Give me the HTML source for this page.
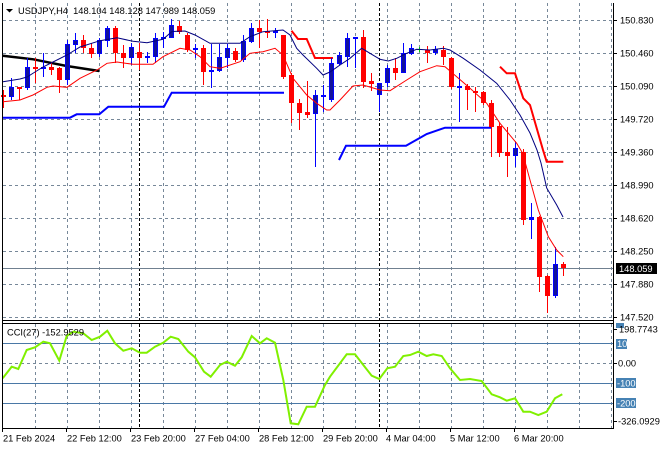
<!DOCTYPE html>
<html><head><meta charset="utf-8"><style>
html,body{margin:0;padding:0;background:#fff;}
svg{display:block;}
text{font-family:"Liberation Sans",sans-serif;font-size:9.3px;fill:#000;}
</style></head><body>
<svg width="660" height="450" viewBox="0 0 660 450" xmlns="http://www.w3.org/2000/svg">
<rect x="0" y="0" width="660" height="450" fill="#fff"/>
<!-- main grid -->
<g stroke="#778899" stroke-width="1" stroke-dasharray="3,3" fill="none">
<path d="M3 20.5H613M3 53.5H613M3 86.5H613M3 119.5H613M3 152.5H613M3 185.5H613M3 218.5H613M3 251.5H613M3 284.5H613M3 317.5H613"/>
<path d="M35.5 3V320M67.5 3V320M99.5 3V320M131.5 3V320M163.5 3V320M195.5 3V320M227.5 3V320M259.5 3V320M291.5 3V320M323.5 3V320M355.5 3V320M387.5 3V320M419.5 3V320M451.5 3V320M483.5 3V320M515.5 3V320M547.5 3V320M579.5 3V320M611.5 3V320"/>
<path d="M35.5 324V428M67.5 324V428M99.5 324V428M131.5 324V428M163.5 324V428M195.5 324V428M227.5 324V428M259.5 324V428M291.5 324V428M323.5 324V428M355.5 324V428M387.5 324V428M419.5 324V428M451.5 324V428M483.5 324V428M515.5 324V428M547.5 324V428M579.5 324V428M611.5 324V428"/>
<path d="M3 363.5H613"/>
</g>
<g stroke="#000" stroke-width="1" stroke-dasharray="3,2" fill="none">
<path d="M139.5 3V320M379.5 3V320M139.5 324V428M379.5 324V428"/>
</g>
<!-- current price line -->
<path d="M3 268.5H613" stroke="#708090" stroke-width="1"/>
<!-- CCI levels -->
<g stroke="#4a78a6" stroke-width="1">
<path d="M3 343.5H613M3 383.5H613M3 403.5H613"/>
</g>

<!-- thick indicator lines -->
<polyline points="2.7,55.7 33.3,59.3 50,62.7 66.7,66 99.3,71" fill="none" stroke="#000" stroke-width="2.5"/>
<polyline points="3,117.7 70,117.7 76.7,114.3 99.3,114.3 108.3,106.7 164,106.7 171.7,92.7 284,92.7" fill="none" stroke="#0000ff" stroke-width="2"/>
<polyline points="339,160 346,145.7 406,145.7 426.7,134 445,127.7 491.7,127.7" fill="none" stroke="#0000ff" stroke-width="2"/>
<polyline points="291.5,30.7 298,39 306.7,39 315,58 333,58" fill="none" stroke="#ff0000" stroke-width="2"/>
<polyline points="500,66.7 506.7,73.3 515,73.3 523.3,98.3 530,105 543,150 546.7,161.7 563.3,161.7" fill="none" stroke="#ff0000" stroke-width="2"/>

<!-- candles: wicks -->
<g stroke="#ff0000" stroke-width="1">
<path d="M3.5 90V108M19.5 87V100M35.5 58V83M51.5 62V75M59.5 67V93M83.5 35V53M91.5 43V58M115.5 26V63M123.5 45V68M139.5 43V70M179.5 21V34M187.5 33V52M203.5 45V85M235.5 48V62M259.5 20V48M267.5 19V38M283.5 35V79M291.5 73V123M299.5 99V130M307.5 81V118M363.5 30V88M371.5 73V91M395.5 58V80M427.5 46V63M443.5 46V65M451.5 57V89M467.5 84V110M475.5 87V112M483.5 91V105M491.5 100V157M499.5 123V157M507.5 127V177M523.5 149V225M539.5 216V292M547.5 275V313M563.5 262V276"/>
</g>
<g stroke="#0000ff" stroke-width="1">
<path d="M11.5 78V100M27.5 58V90M43.5 53V77M67.5 40V85M75.5 33V53M99.5 38V57M107.5 26V47M131.5 43V65M147.5 52V63M155.5 33V63M163.5 32V48M171.5 19V38M195.5 44V58M211.5 44V88M219.5 44V72M227.5 44V68M243.5 35V62M251.5 23V43M275.5 28V38M315.5 90V167M323.5 85V112M331.5 58V102M339.5 52V65M347.5 33V67M355.5 37V68M379.5 83V112M387.5 65V87M403.5 43V73M411.5 44V55M435.5 46V55M459.5 73V122M515.5 142V167M531.5 203V239M555.5 247V298"/>
</g>
<path d="M419.5 47V52M417 49.5H422" stroke="#00cc00" stroke-width="1"/>
<!-- red bodies -->
<g fill="#ff0000">
<rect x="1" y="95" width="5" height="2"/>
<rect x="17" y="87" width="5" height="2"/>
<rect x="33" y="67" width="5" height="2"/>
<rect x="49" y="67" width="5" height="3"/>
<rect x="57" y="68" width="5" height="12"/>
<rect x="81" y="40" width="5" height="8"/>
<rect x="89" y="48" width="5" height="6"/>
<rect x="113" y="28" width="5" height="25"/>
<rect x="121" y="53" width="5" height="5"/>
<rect x="137" y="52" width="5" height="6"/>
<rect x="177" y="26" width="5" height="6"/>
<rect x="185" y="35" width="5" height="15"/>
<rect x="201" y="48" width="5" height="24"/>
<rect x="233" y="51" width="5" height="9"/>
<rect x="257" y="28" width="5" height="4"/>
<rect x="265" y="31" width="5" height="2"/>
<rect x="281" y="35" width="5" height="42"/>
<rect x="289" y="75" width="5" height="28"/>
<rect x="297" y="103" width="5" height="10"/>
<rect x="305" y="112" width="5" height="3"/>
<rect x="361" y="37" width="5" height="45"/>
<rect x="369" y="81" width="5" height="3"/>
<rect x="393" y="68" width="5" height="5"/>
<rect x="425" y="50" width="5" height="3"/>
<rect x="441" y="50" width="5" height="7"/>
<rect x="449" y="58" width="5" height="29"/>
<rect x="465" y="86" width="5" height="4"/>
<rect x="473" y="91" width="5" height="2"/>
<rect x="481" y="92" width="5" height="11"/>
<rect x="489" y="103" width="5" height="24"/>
<rect x="497" y="126" width="5" height="27"/>
<rect x="505" y="152" width="5" height="4"/>
<rect x="521" y="152" width="5" height="68"/>
<rect x="537" y="217" width="5" height="60"/>
<rect x="545" y="276" width="5" height="20"/>
<rect x="561" y="264" width="5" height="4"/>
</g>
<!-- blue bodies (large) -->
<g fill="#12129a" stroke="#0000ff" stroke-width="1">
<rect x="9.5" y="87.5" width="4" height="9"/>
<rect x="25.5" y="67.5" width="4" height="20"/>
<rect x="65.5" y="44.5" width="4" height="35"/>
<rect x="73.5" y="40.5" width="4" height="4"/>
<rect x="97.5" y="40.5" width="4" height="13"/>
<rect x="105.5" y="28.5" width="4" height="12"/>
<rect x="129.5" y="47.5" width="4" height="10"/>
<rect x="153.5" y="38.5" width="4" height="18"/>
<rect x="169.5" y="25.5" width="4" height="12"/>
<rect x="217.5" y="57.5" width="4" height="13"/>
<rect x="225.5" y="48.5" width="4" height="9"/>
<rect x="241.5" y="41.5" width="4" height="18"/>
<rect x="249.5" y="28.5" width="4" height="13"/>
<rect x="313.5" y="95.5" width="4" height="18"/>
<rect x="329.5" y="63.5" width="4" height="36"/>
<rect x="337.5" y="55.5" width="4" height="8"/>
<rect x="345.5" y="38.5" width="4" height="18"/>
<rect x="377.5" y="83.5" width="4" height="11"/>
<rect x="385.5" y="68.5" width="4" height="14"/>
<rect x="401.5" y="53.5" width="4" height="19"/>
<rect x="409.5" y="48.5" width="4" height="5"/>
<rect x="433.5" y="49.5" width="4" height="3"/>
<rect x="513.5" y="148.5" width="4" height="7"/>
<rect x="553.5" y="264.5" width="4" height="31"/>
</g>
<!-- blue small bodies -->
<g fill="#0000ff">
<rect x="41" y="67" width="5" height="2"/>
<rect x="145" y="56" width="5" height="2"/>
<rect x="161" y="37" width="5" height="2"/>
<rect x="193" y="48" width="5" height="2"/>
<rect x="209" y="70" width="5" height="2"/>
<rect x="273" y="31" width="5" height="2"/>
<rect x="321" y="95" width="5" height="2"/>
<rect x="353" y="37" width="5" height="2"/>
<rect x="457" y="86" width="5" height="2"/>
<rect x="529" y="217" width="5" height="3"/>
</g>

<!-- thin MAs -->
<polyline points="3,81.7 20,79 27,77 35,72 43,67 53,62 67,55 80,47 100,40.7 117,37.7 133,41.3 147,42.7 163,39.3 172,31.5 185,31 195,35 210,43.3 240,43.3 250,36.7 263,31.7 283,30 290,35 296.7,48.3 303,55 316.7,68.3 323,75 330,72 340,65 350,58.3 361.7,48.3 370,53.3 380,59.3 388.3,61 396.7,58.3 406.7,53.3 416.7,49.3 430,50 443.3,48.3 450,50 463.3,58.3 480,70 496.7,83.3 510,100 520,115 530,133 537,150 541,163 546.7,188 556.7,205 563,217" fill="none" stroke="#000080" stroke-width="1"/>
<polyline points="3,101.7 20,100 33,95 47,87.3 53,86 67,87.3 80,78.3 97,70 107,63.3 117,62 133,64.3 153,64.3 163,56.7 180,48.3 190,50 200,56.7 210,66.7 220,68.3 240,61.7 250,53.3 263,51.7 275,48.3 283,55 293,78.3 306.7,95 316.7,103.3 326.7,110 330,110 340,100 353,86 363,85 380,90 390,90.7 406.7,80 420,71.7 436.7,65.7 445,66.7 456.7,76.7 470,88.3 486.7,103.3 500,123.3 516.7,143.3 522.7,153.3 530,180 538.3,210 548.3,236.7 556.7,250 563.3,256.7" fill="none" stroke="#ff0000" stroke-width="1"/>

<!-- CCI line -->
<polyline points="2.7,378.3 11.7,366.7 18.3,369 26.7,350 35,347.3 43.3,341.7 50,343.3 59.3,360.7 66.7,336 73.3,331.7 83.3,333.3 91.7,340 100,336.7 107.3,330.7 115,343.3 123.3,350.7 131.7,348.3 140,352.7 146.7,352.7 155,346.7 163.3,342.7 170.7,336.7 178.3,339 188.3,351.7 195,357.3 204,371.7 210.7,376.7 220,365 226.7,361.7 235,365.7 241.7,357.3 251.7,336 260,343.3 266.7,338.3 275,342.7 283.3,380 290.7,423.3 298.3,424.3 306.7,406.7 315,406.7 325,385 330,376.7 346.7,354.3 355,354.3 363.3,365 371.7,375.7 379.3,379 387.3,368.3 395,366.7 403.3,356 410,355 418.3,351.7 426.7,356 433.3,354.3 441.7,356 450,368.3 460,380 470,379 481.7,381 491.7,394.3 500,397.3 506.7,400.7 515,398.3 523.3,411.7 530,411.7 538.3,415 546.7,411.7 555,398.3 562.3,394.3" fill="none" stroke="#80f000" stroke-width="2"/>

<!-- borders -->
<g stroke="#000" stroke-width="1" fill="none">
<path d="M2.5 3V429"/>
<path d="M613.5 3V429"/>
<path d="M2 320.5H614"/>
<path d="M2 323.5H614"/>
<path d="M2 428.5H614"/>
</g>
<!-- ticks -->
<g stroke="#000" stroke-width="1">
<path d="M614 20.5H617M614 53.5H617M614 86.5H617M614 119.5H617M614 152.5H617M614 185.5H617M614 218.5H617M614 251.5H617M614 284.5H617M614 317.5H617M614 363.5H617M614 329.5H617M614 421.5H617"/>
<path d="M2.5 429V432M66.5 429V432M130.5 429V432M194.5 429V432M258.5 429V432M322.5 429V432M386.5 429V432M450.5 429V432M514.5 429V432"/>
</g>

<!-- header -->
<polygon points="6,9 13,9 9.5,12.5" fill="#000"/>
<text x="18" y="14" xml:space="preserve">USDJPY,H4  148.104 148.128 147.989 148.059</text>
<text x="7" y="335.5">CCI(27) -152.9529</text>

<!-- price labels -->
<text x="620" y="23.5">150.830</text>
<text x="620" y="56.5">150.460</text>
<text x="620" y="89.5">150.090</text>
<text x="620" y="122.5">149.720</text>
<text x="620" y="155.5">149.360</text>
<text x="620" y="188.5">148.990</text>
<text x="620" y="221.5">148.620</text>
<text x="620" y="254.5">148.250</text>
<text x="620" y="287.5">147.880</text>
<text x="620" y="320.5">147.520</text>
<rect x="616" y="263" width="41" height="11" fill="#000"/>
<text x="619" y="272" style="fill:#fff">148.059</text>

<!-- CCI labels -->
<rect x="616" y="323" width="8" height="5" fill="#4682b4"/>
<text x="619" y="332.5">198.7743</text>
<rect x="616" y="339" width="11" height="10" fill="#4682b4"/>
<text x="617" y="347" style="fill:#fff">100</text>
<text x="618" y="366.5">0.00</text>
<rect x="616" y="378" width="20" height="10" fill="#4682b4"/>
<text x="617" y="386.5" style="fill:#fff">-100</text>
<rect x="616" y="398" width="20" height="10" fill="#4682b4"/>
<text x="617" y="406.5" style="fill:#fff">-200</text>
<text x="618" y="424.5">-326.0929</text>

<!-- time labels -->
<text x="3" y="441.5">21 Feb 2024</text>
<text x="67" y="441.5">22 Feb 12:00</text>
<text x="131" y="441.5">23 Feb 20:00</text>
<text x="195" y="441.5">27 Feb 04:00</text>
<text x="259" y="441.5">28 Feb 12:00</text>
<text x="323" y="441.5">29 Feb 20:00</text>
<text x="386" y="441.5">4 Mar 04:00</text>
<text x="450" y="441.5">5 Mar 12:00</text>
<text x="514" y="441.5">6 Mar 20:00</text>
</svg>
</body></html>
